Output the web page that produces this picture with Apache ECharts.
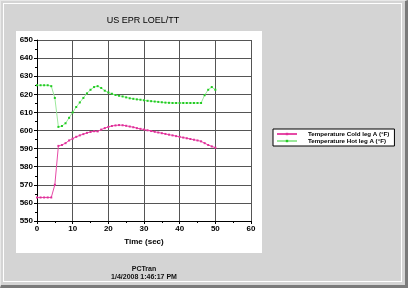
<!DOCTYPE html>
<html>
<head>
<meta charset="utf-8">
<script src="https://cdn.jsdelivr.net/npm/echarts@6/dist/echarts.min.js"></script>
<style>
html,body{margin:0;padding:0;}
body{width:408px;height:288px;background:#d4d4d4;position:relative;overflow:hidden;}
#frame{position:absolute;left:0;top:0;border-top:1px solid #e8e8e8;border-left:1px solid #e8e8e8;border-right:3px solid #7a7a7a;border-bottom:3px solid #7a7a7a;box-sizing:content-box;width:404px;height:284px;}
#inner{position:absolute;left:3px;top:3px;width:397px;height:277px;border:1px solid #ffffff;}
#panel{position:absolute;left:16px;top:31px;width:246px;height:222px;background:#ffffff;}
#chart{position:absolute;left:0;top:0;width:408px;height:288px;}
</style>
</head>
<body>
<div id="frame"></div>
<div id="inner"></div>
<div id="panel"></div>
<div id="chart"></div>
<script>
var times = [0,1,2,3,4,5,6,7,8,9,10,11,12,13,14,15,16,17,18,19,20,21,22,23,24,25,26,27,28,29,30,31,32,33,34,35,36,37,38,39,40,41,42,43,44,45,46,47,48,49,50];
var coldLeg = [563,563,563,563,563,570,591.5,592,593,594.5,595.5,596.5,597.3,598,598.7,599.2,599.6,599.5,600.5,601.3,602,602.5,602.8,603,602.9,602.6,602.2,601.8,601.3,600.9,600.5,600.1,599.7,599.3,598.9,598.5,598.1,597.7,597.3,596.9,596.5,596.1,595.7,595.3,594.9,594.5,594,593,592,591.2,590.5];
var hotLeg = [625,625,625,625,624.5,618,602,602.5,604,607,610,613,615.5,618,620.5,622.5,624,624.5,623.5,622,621,620.3,619.6,619.2,618.8,618.3,617.8,617.5,617.2,617,616.7,616.4,616.2,616,615.8,615.6,615.4,615.3,615.2,615.2,615.2,615.2,615.2,615.2,615.2,615.2,615.2,619.5,622.5,624,622.5];
var seriesNames = ['Temperature Cold leg A (°F)','Temperature Hot leg A (°F)'];
var yTicks = {min:550,max:650,interval:10};
var xTicks = {min:0,max:60,interval:10};

function pairs(xs, ys){ return xs.map(function(x,i){ return [x, ys[i]]; }); }

var chart = echarts.init(document.getElementById('chart'), null, {renderer:'canvas'});
var axisLab = {color:'#000',fontFamily:'Liberation Sans, Arial',fontSize:8,fontWeight:'bold'};
chart.setOption({
  animation:false,
  backgroundColor:'transparent',
  title:[
    {text:'US EPR LOEL/TT',left:138,top:11,textAlign:'center',textStyle:{fontFamily:'Liberation Sans, Arial',fontSize:9,fontWeight:'normal',color:'#000'}},
    {text:'PCTran',left:139,top:261,textAlign:'center',textStyle:{fontFamily:'Liberation Sans, Arial',fontSize:7,fontWeight:'bold',color:'#111'}},
    {text:'1/4/2008 1:46:17 PM',left:139,top:269,textAlign:'center',textStyle:{fontFamily:'Liberation Sans, Arial',fontSize:7,fontWeight:'bold',color:'#111'}}
  ],
  grid:{left:37,right:157,top:40,bottom:67,containLabel:false},
  legend:{
    orient:'vertical',left:273,top:129,
    backgroundColor:'#fff',borderColor:'#000',borderWidth:1,
    padding:[2,5,2,3],itemGap:1,itemWidth:20,itemHeight:3,
    textStyle:{fontFamily:'Liberation Sans, Arial',fontSize:6.2,fontWeight:'bold',color:'#000',padding:[0,0,0,6]},
    data:seriesNames
  },
  xAxis:{
    type:'value',min:xTicks.min,max:xTicks.max,interval:xTicks.interval,
    name:'Time (sec)',nameLocation:'middle',nameGap:14,
    nameTextStyle:{color:'#000',fontFamily:'Liberation Sans, Arial',fontSize:8,fontWeight:'bold'},
    axisLine:{show:true,lineStyle:{color:'#000',width:1}},
    axisTick:{show:true,length:3,lineStyle:{color:'#000'}},
    minorTick:{show:true,splitNumber:2,length:2,lineStyle:{color:'#000'}},
    axisLabel:Object.assign({margin:4},axisLab),
    splitLine:{show:true,lineStyle:{color:'#555',width:1}}
  },
  yAxis:{
    type:'value',min:yTicks.min,max:yTicks.max,interval:yTicks.interval,
    axisLine:{show:true,lineStyle:{color:'#000',width:1}},
    axisTick:{show:true,length:3,lineStyle:{color:'#000'}},
    minorTick:{show:true,splitNumber:2,length:2,lineStyle:{color:'#000'}},
    axisLabel:Object.assign({margin:4},axisLab),
    splitLine:{show:true,lineStyle:{color:'#555',width:1}}
  },
  series:[
    {name:seriesNames[0],type:'line',data:pairs(times,coldLeg),showSymbol:true,showAllSymbol:true,symbol:'rect',symbolSize:2,
     itemStyle:{color:'#e0309a'},lineStyle:{color:'#e64aa6',width:1}},
    {name:seriesNames[1],type:'line',data:pairs(times,hotLeg),showSymbol:true,showAllSymbol:true,symbol:'rect',symbolSize:2,
     itemStyle:{color:'#22cc22'},lineStyle:{color:'#9be89b',width:1}}
  ]
});
</script>
</body>
</html>
